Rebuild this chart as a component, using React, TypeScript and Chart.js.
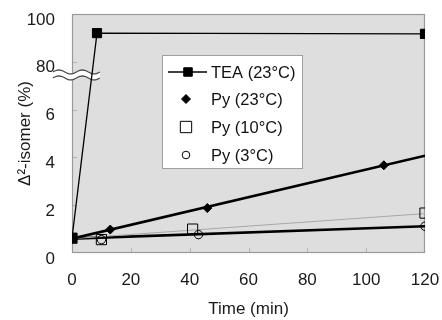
import React, { useEffect, useRef } from "react";
import { Chart, registerables } from "chart.js";

Chart.register(...registerables);

// ---- data ----
const seriesLabels = ["TEA (23°C)", "Py (23°C)", "Py (10°C)", "Py (3°C)"];

const teaTime = [0, 8.5, 120];
const teaValue = [0.62, 92, 91.7];

const py23Time = [0, 13, 46, 106];
const py23Value = [0.62, 0.98, 1.88, 3.67];

const py10Time = [0, 10, 41, 120];
const py10Value = [0.62, 0.56, 1.0, 1.67];

const py3Time = [0, 10, 43, 120];
const py3Value = [0.62, 0.56, 0.77, 1.12];

const trendTime = [0, 120];
const py23Trend = [0.6, 4.07];
const py10Trend = [0.6, 1.65];
const py3Trend = [0.6, 1.12];

const xTickValues = [0, 20, 40, 60, 80, 100, 120];
const yTickValues = [0, 2, 4, 6, 8, 10];
const yTickLabels = ["0", "2", "4", "6", "80", "100"];

// broken axis: 0–6 shown directly, 80–100 compressed into 8–10
const toAxis = (v: number) => (v < 40 ? v : 8 + (v - 80) / 10);
const pts = (xs: number[], ys: number[]) => xs.map((x, i) => ({ x, y: toAxis(ys[i]) }));

const FONT = "'Liberation Sans', Arial, sans-serif";
const BG = "#dedede";

function drawSym(ctx: CanvasRenderingContext2D, style: string, x: number, y: number, r: number) {
  if (style === "rect") {
    const s = r * Math.SQRT1_2;
    ctx.rect(x - s, y - s, 2 * s, 2 * s);
  } else if (style === "rectRot") {
    ctx.moveTo(x, y - r);
    ctx.lineTo(x + r, y);
    ctx.lineTo(x, y + r);
    ctx.lineTo(x - r, y);
    ctx.closePath();
  } else {
    ctx.arc(x, y, r, 0, Math.PI * 2);
  }
}

const framePlugin = {
  id: "frame",
  beforeDraw(chart: any) {
    const { ctx, chartArea: a } = chart;
    ctx.save();
    ctx.fillStyle = "#ffffff";
    ctx.fillRect(0, 0, chart.width, chart.height);
    ctx.fillStyle = BG;
    ctx.fillRect(a.left, a.top, a.right - a.left, a.bottom - a.top);
    ctx.restore();
  },
  beforeDatasetsDraw(chart: any) {
    const { ctx, chartArea: a, scales } = chart;
    const xs = scales.x;
    const ys = scales.y;
    ctx.save();
    // inner ticks
    ctx.strokeStyle = "#b4b4b4";
    ctx.lineWidth = 1;
    ctx.beginPath();
    xTickValues.slice(1, -1).forEach((v) => {
      const px = Math.round(xs.getPixelForValue(v)) + 0.5;
      ctx.moveTo(px, a.bottom);
      ctx.lineTo(px, a.bottom - 5);
    });
    yTickValues.slice(1, -1).forEach((v) => {
      const py = Math.round(ys.getPixelForValue(v)) + 0.5;
      ctx.moveTo(a.left, py);
      ctx.lineTo(a.left + 5, py);
    });
    ctx.stroke();
    // frame
    ctx.strokeStyle = "#9a9a9a";
    ctx.lineWidth = 1.2;
    ctx.strokeRect(a.left + 0.5, a.top + 0.5, a.right - a.left - 1, a.bottom - a.top - 1);
    // axis break
    const yMid = ys.getPixelForValue(7.45);
    const x0 = a.left - 19;
    const x1 = a.left + 28;
    const gap = 3;
    const amp = 2;
    const wave = (off: number, dir: number, start: boolean) => {
      const n = 40;
      for (let i = 0; i <= n; i++) {
        const t = i / n;
        const x = dir > 0 ? x0 + (x1 - x0) * t : x1 - (x1 - x0) * t;
        const tt = (x - x0) / (x1 - x0);
        const y = yMid + off - amp * Math.sin(tt * Math.PI * 4);
        if (i === 0 && start) ctx.moveTo(x, y);
        else ctx.lineTo(x, y);
      }
    };
    ctx.beginPath();
    wave(-gap, 1, true);
    wave(gap, -1, false);
    ctx.closePath();
    ctx.fillStyle = "#ffffff";
    ctx.fill();
    ctx.strokeStyle = "#444";
    ctx.lineWidth = 1.2;
    ctx.beginPath();
    wave(-gap, 1, true);
    ctx.stroke();
    ctx.beginPath();
    wave(gap, 1, true);
    ctx.stroke();
    ctx.restore();
  },
  afterDatasetsDraw(chart: any) {
    const { ctx } = chart;
    const bx = 162, by = 55, bw = 141, bh = 114;
    ctx.save();
    ctx.fillStyle = "#ffffff";
    ctx.fillRect(bx, by, bw, bh);
    ctx.strokeStyle = "#a0a0a0";
    ctx.lineWidth = 1;
    ctx.strokeRect(bx + 0.5, by + 0.5, bw - 1, bh - 1);
    const rows = [72, 99, 127, 155];
    chart.data.datasets.slice(0, 4).forEach((ds: any, i: number) => {
      const y = rows[i];
      const sx = i === 0 ? 188 : 186;
      if (ds.showLine !== false) {
        ctx.strokeStyle = ds.borderColor;
        ctx.lineWidth = ds.borderWidth;
        ctx.beginPath();
        ctx.moveTo(168, y);
        ctx.lineTo(207, y);
        ctx.stroke();
      }
      ctx.fillStyle = ds.pointBackgroundColor;
      ctx.strokeStyle = ds.pointBorderColor;
      ctx.lineWidth = ds.pointBorderWidth ?? 1;
      ctx.beginPath();
      drawSym(ctx, ds.pointStyle, sx, y, ds.legendRadius);
      if (ds.pointBackgroundColor !== "transparent") ctx.fill();
      ctx.stroke();
      ctx.fillStyle = "#111";
      ctx.font = `16.5px ${FONT}`;
      ctx.textBaseline = "middle";
      ctx.textAlign = "left";
      ctx.fillText(ds.label, 211, y + 1);
    });
    ctx.restore();
  },
};

export default function App() {
  const ref = useRef<HTMLCanvasElement | null>(null);

  useEffect(() => {
    if (!ref.current) return;
    const chart = new Chart(ref.current, {
      type: "line",
      data: {
        datasets: [
          {
            label: seriesLabels[0],
            data: pts(teaTime, teaValue),
            borderColor: "#000",
            borderWidth: 1.3,
            pointStyle: "rect",
            pointRadius: 6.5,
            pointBackgroundColor: "#000",
            pointBorderColor: "#000",
            pointBorderWidth: 1,
            showLine: true,
            legendRadius: 6,
          } as any,
          {
            label: seriesLabels[1],
            data: pts(py23Time, py23Value),
            borderColor: "#000",
            borderWidth: 0,
            pointStyle: "rectRot",
            pointRadius: 4.5,
            pointBackgroundColor: "#000",
            pointBorderColor: "#000",
            pointBorderWidth: 1,
            showLine: false,
            legendRadius: 4.5,
          } as any,
          {
            label: seriesLabels[2],
            data: pts(py10Time, py10Value),
            borderColor: "#000",
            borderWidth: 0,
            pointStyle: "rect",
            pointRadius: 7.2,
            pointBackgroundColor: "transparent",
            pointBorderColor: "#000",
            pointBorderWidth: 1,
            showLine: false,
            legendRadius: 8,
          } as any,
          {
            label: seriesLabels[3],
            data: pts(py3Time, py3Value),
            borderColor: "#000",
            borderWidth: 0,
            pointStyle: "circle",
            pointRadius: 4.2,
            pointBackgroundColor: "transparent",
            pointBorderColor: "#000",
            pointBorderWidth: 1,
            showLine: false,
            legendRadius: 3.8,
          } as any,
          {
            label: "Py (23°C) trend",
            data: pts(trendTime, py23Trend),
            borderColor: "#000",
            borderWidth: 2.6,
            pointRadius: 0,
          },
          {
            label: "Py (10°C) trend",
            data: pts(trendTime, py10Trend),
            borderColor: "#a8a8a8",
            borderWidth: 1,
            pointRadius: 0,
          },
          {
            label: "Py (3°C) trend",
            data: pts(trendTime, py3Trend),
            borderColor: "#000",
            borderWidth: 2.6,
            pointRadius: 0,
          },
        ],
      },
      options: {
        animation: false,
        responsive: false,
        layout: { padding: { top: 14, right: 17, left: 0, bottom: 0 } },
        plugins: { legend: { display: false }, tooltip: { enabled: false } },
        scales: {
          x: {
            type: "linear",
            min: 0,
            max: 120,
            afterBuildTicks: (s: any) => {
              s.ticks = xTickValues.map((v) => ({ value: v }));
            },
            grid: { display: false, drawTicks: false },
            border: { display: false },
            ticks: { padding: 17, color: "#1a1a1a", font: { family: FONT, size: 17 }, maxRotation: 0 },
            title: {
              display: true,
              text: "Time (min)",
              color: "#1a1a1a",
              font: { family: FONT, size: 17 },
              padding: { top: 0, bottom: 0 },
            },
            afterFit: (s: any) => {
              s.height = 67;
              s.paddingLeft = 0;
              s.paddingRight = 0;
            },
          },
          y: {
            type: "linear",
            min: 0,
            max: 10,
            afterBuildTicks: (s: any) => {
              s.ticks = yTickValues.map((v) => ({ value: v }));
            },
            grid: { display: false, drawTicks: false },
            border: { display: false },
            ticks: {
              padding: 17,
              labelOffset: 6,
              color: "#1a1a1a",
              font: { family: FONT, size: 17 },
              callback: (v: any) => yTickLabels[yTickValues.indexOf(Number(v))] ?? "",
            },
            title: {
              display: true,
              text: "Δ²-isomer (%)",
              color: "#1a1a1a",
              font: { family: FONT, size: 17 },
              padding: { top: 15, bottom: 0 },
            },
            afterFit: (s: any) => {
              s.width = 72;
              s.paddingTop = 0;
              s.paddingBottom = 0;
            },
          },
        },
      },
      plugins: [framePlugin],
    });
    return () => chart.destroy();
  }, []);

  return (
    <div style={{ position: "absolute", left: 0, top: 0, width: 442, height: 320 }}>
      <canvas ref={ref} width={442} height={320} style={{ display: "block" }} />
    </div>
  );
}
